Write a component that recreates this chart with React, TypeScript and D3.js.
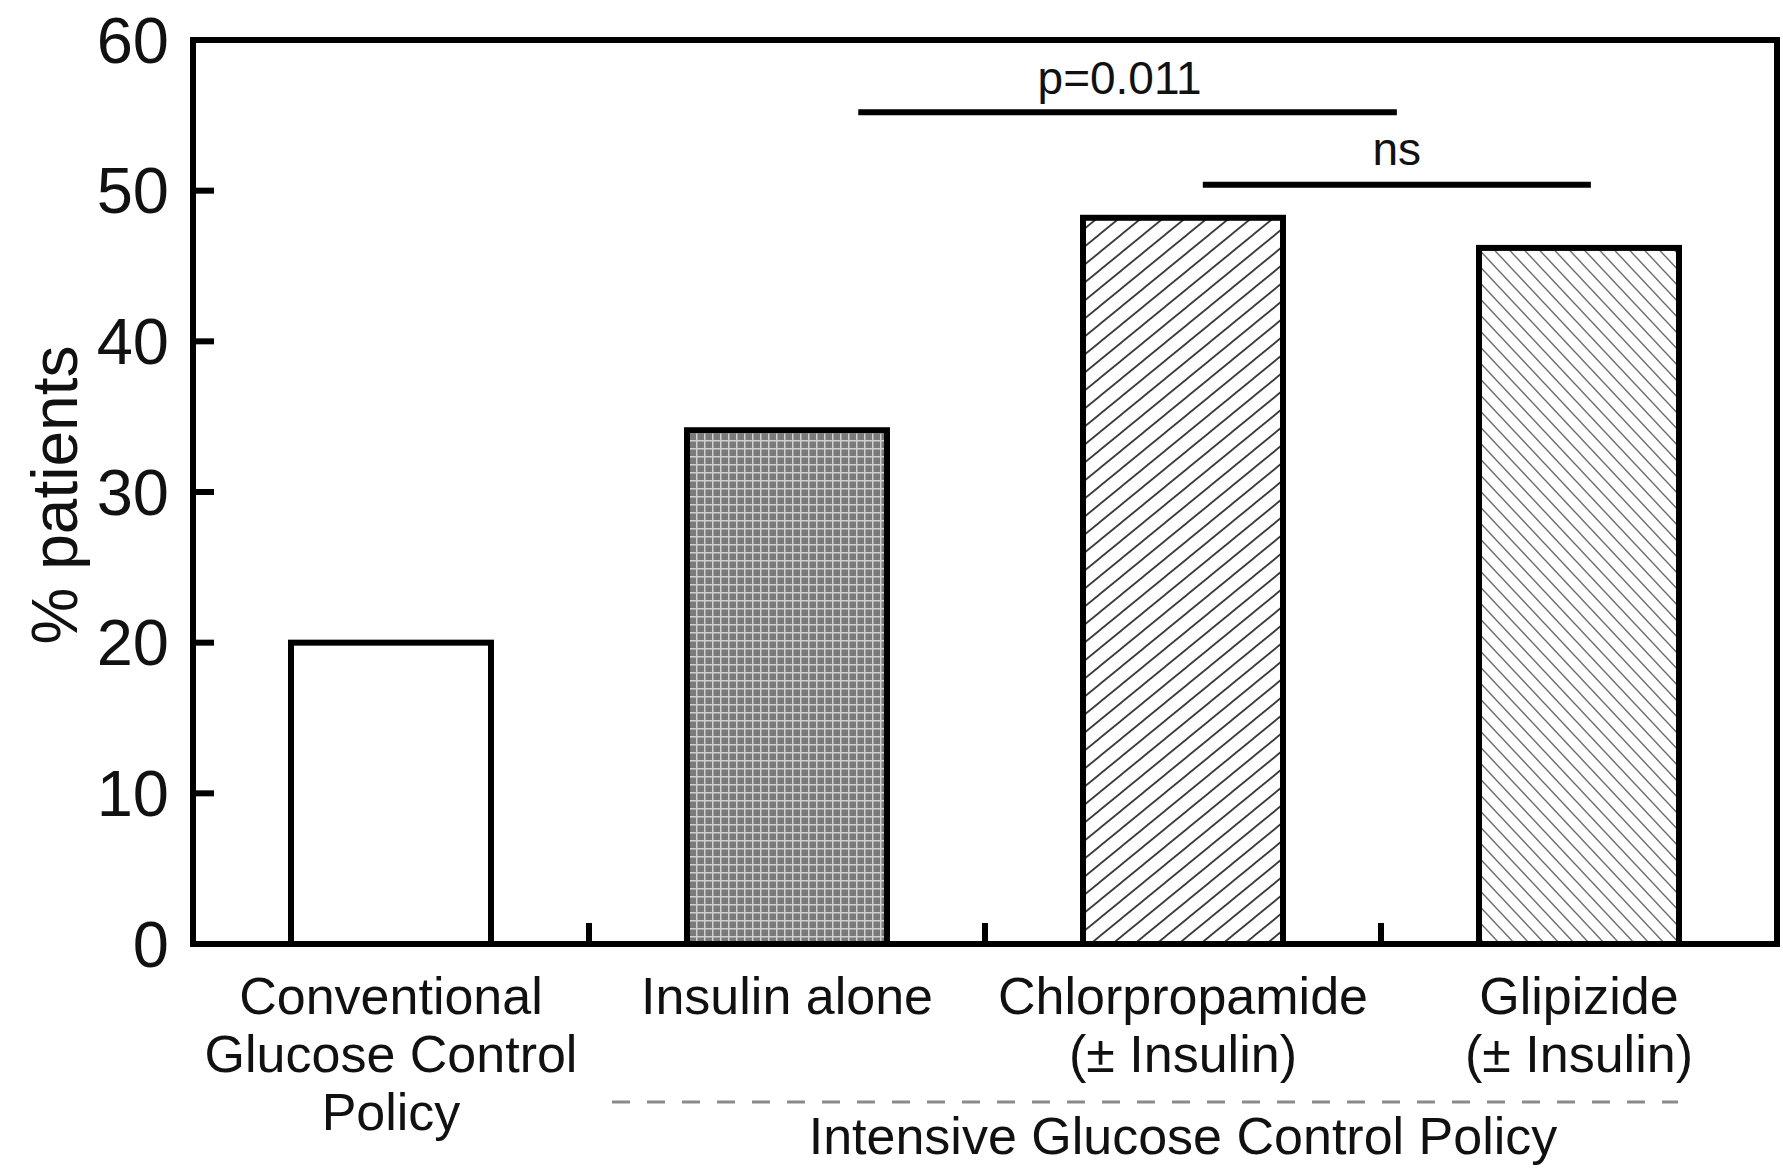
import React from "react";
import * as d3 from "d3";

const categories = ["Conventional", "Insulin alone", "Chlorpropamide", "Glipizide"];
const values = [20, 34.1, 48.2, 46.2];
const categoryLabels = [
  ["Conventional", "Glucose Control", "Policy"],
  ["Insulin alone"],
  ["Chlorpropamide", "(± Insulin)"],
  ["Glipizide", "(± Insulin)"],
];
const fills = ["white", "url(#grid)", "url(#fwd)", "url(#bwd)"];
const yTicks = [0, 10, 20, 30, 40, 50, 60];
// significance brackets: positions in category-index units and y values
const brackets = [
  { x0: 1.68, x1: 3.04, y: 55.2, label: "p=0.011", lx: 2.34, ly: 56.4 },
  { x0: 2.55, x1: 3.53, y: 50.4, label: "ns", lx: 3.04, ly: 51.7 },
];
const groupLabel = "Intensive Glucose Control Policy";
const yLabel = "% patients";

const W = 1783;
const H = 1169;
const left = 193;
const right = 1777;
const top = 40;
const bottom = 944;
const font = "'Liberation Sans', Arial, Helvetica, sans-serif";

export default function App() {
  const y = d3.scaleLinear().domain([0, 60]).range([bottom, top]);
  const x = d3
    .scaleBand<string>()
    .domain(categories)
    .range([left, right])
    .paddingInner(0.495)
    .paddingOuter(0.2475);
  const step = x.step();
  const xi = d3.scaleLinear().domain([0, categories.length]).range([left, right]);
  const boundaries = categories.slice(1).map((c) => (x(c) as number) - (step - x.bandwidth()) / 2);
  const center = (c: string) => (x(c) as number) + x.bandwidth() / 2;

  return (
    <div style={{ position: "absolute", left: 0, top: 0 }}>
      <svg width={W} height={H} style={{ display: "block", background: "white" }}>
        <defs>
          <pattern id="grid" width={8} height={8} patternUnits="userSpaceOnUse">
            <rect width={8} height={8} fill="#7a7a7a" />
            <line x1={0} y1={0.5} x2={8} y2={0.5} stroke="#d0d0d0" strokeWidth={2} />
            <line x1={0.5} y1={0} x2={0.5} y2={8} stroke="#d0d0d0" strokeWidth={2} />
          </pattern>
          <pattern id="fwd" width={22} height={18} patternUnits="userSpaceOnUse">
            <rect width={22} height={18} fill="white" />
            <line x1={-22} y1={36} x2={22} y2={0} stroke="#3a3a3a" strokeWidth={1.8} />
            <line x1={0} y1={36} x2={44} y2={0} stroke="#3a3a3a" strokeWidth={1.8} />
            <line x1={-22} y1={18} x2={22} y2={-18} stroke="#3a3a3a" strokeWidth={1.8} />
          </pattern>
          <pattern id="bwd" width={15} height={16} patternUnits="userSpaceOnUse">
            <rect width={15} height={16} fill="white" />
            <line x1={-15} y1={-16} x2={30} y2={32} stroke="#6e6e6e" strokeWidth={1.5} />
            <line x1={0} y1={-16} x2={45} y2={32} stroke="#6e6e6e" strokeWidth={1.5} />
            <line x1={-15} y1={0} x2={30} y2={48} stroke="#6e6e6e" strokeWidth={1.5} />
          </pattern>
        </defs>

        {/* bars */}
        {categories.map((c, i) => (
          <rect
            key={c}
            x={x(c)}
            y={y(values[i])}
            width={x.bandwidth()}
            height={y(0) - y(values[i])}
            fill={fills[i]}
            stroke="black"
            strokeWidth={6}
          />
        ))}

        {/* frame */}
        <rect x={left} y={top} width={right - left} height={bottom - top} fill="none" stroke="black" strokeWidth={6} />

        {/* y ticks */}
        {yTicks.map((t) => (
          <g key={t}>
            {t > 0 && t < 60 && (
              <line x1={left} x2={left + 21} y1={y(t)} y2={y(t)} stroke="black" strokeWidth={6} />
            )}
            <text
              x={169}
              y={y(t)}
              textAnchor="end"
              dominantBaseline="central"
              fontFamily={font}
              fontSize={65}
              fill="#111"
            >
              {t}
            </text>
          </g>
        ))}

        {/* x ticks between categories */}
        {boundaries.map((b, i) => (
          <line key={i} x1={b} x2={b} y1={bottom} y2={bottom - 21} stroke="black" strokeWidth={6} />
        ))}

        {/* y label */}
        <text
          transform={`translate(77, ${495}) rotate(-90)`}
          textAnchor="middle"
          fontFamily={font}
          fontSize={64}
          fill="#111"
        >
          {yLabel}
        </text>

        {/* category labels */}
        {categories.map((c, i) => (
          <text key={c} textAnchor="middle" fontFamily={font} fontSize={52} fill="#111">
            {categoryLabels[i].map((l, j) => (
              <tspan key={j} x={center(c)} y={1014 + j * 58}>
                {l}
              </tspan>
            ))}
          </text>
        ))}

        {/* group dashed line and label */}
        <line
          x1={boundaries[0] + 23}
          x2={xi(3.75)}
          y1={1102}
          y2={1102}
          stroke="#8a8a8a"
          strokeWidth={3}
          strokeDasharray="18 17"
        />
        <text
          x={xi(2.5)}
          y={1154}
          textAnchor="middle"
          fontFamily={font}
          fontSize={52}
          fill="#111"
        >
          {groupLabel}
        </text>

        {/* significance brackets */}
        {brackets.map((b, i) => (
          <g key={i}>
            <line x1={xi(b.x0)} x2={xi(b.x1)} y1={y(b.y)} y2={y(b.y)} stroke="black" strokeWidth={6} />
            <text x={xi(b.lx)} y={y(b.ly)} textAnchor="middle" fontFamily={font} fontSize={46} fill="#111">
              {b.label}
            </text>
          </g>
        ))}
      </svg>
    </div>
  );
}
